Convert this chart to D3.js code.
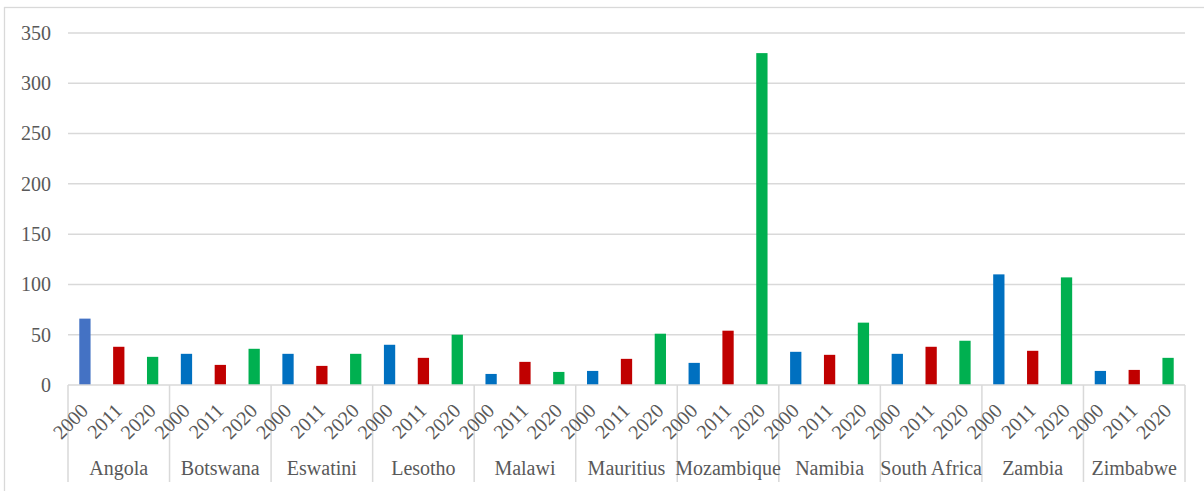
<!DOCTYPE html>
<html>
<head>
<meta charset="utf-8">
<script src="https://cdn.jsdelivr.net/npm/d3@7"></script>
<style>
  html, body { margin: 0; padding: 0; background: #fff; }
  svg { display: block; }
  text { font-family: "Liberation Serif", "Times New Roman", serif; fill: #595959; }
</style>
</head>
<body>
<svg id="chart" width="1204" height="491"></svg>
<script>
// Countries on the category axis
const countries = ["Angola", "Botswana", "Eswatini", "Lesotho", "Malawi", "Mauritius",
  "Mozambique", "Namibia", "South Africa", "Zambia", "Zimbabwe"];
// Years shown under each country
const years = ["2000", "2011", "2020"];
// Values per year, one entry per country
const values2000 = [66, 31, 31, 40, 11, 14, 22, 33, 31, 110, 14];
const values2011 = [38, 20, 19, 27, 23, 26, 54, 30, 38, 34, 15];
const values2020 = [28, 36, 31, 50, 13, 51, 330, 62, 44, 107, 27];
// Value axis ticks
const yTicks = [0, 50, 100, 150, 200, 250, 300, 350];

const seriesValues = [values2000, values2011, values2020];
const seriesColors = ["#0070C0", "#C00000", "#00B050"];
// Angola's 2000 bar carries its own fill
const pointColors = { "Angola|2000": "#4472C4" };

const rows = [];
countries.forEach((c, i) => {
  years.forEach((y, j) => {
    rows.push({ country: c, year: y, value: seriesValues[j][i],
      color: pointColors[c + "|" + y] || seriesColors[j] });
  });
});

const svg = d3.select("#chart");
const W = 1204, H = 491;
const plot = { left: 68, right: 1185, top: 33, bottom: 385 };
const gridColor = "#d9d9d9";

// Chart frame (extends past the right and bottom edges)
svg.append("rect")
  .attr("x", 4.5).attr("y", 7.5)
  .attr("width", W + 10).attr("height", H + 10)
  .attr("fill", "none").attr("stroke", gridColor).attr("stroke-width", 1.3);

const x0 = d3.scaleBand().domain(countries).range([plot.left, plot.right]).padding(0);
const x1 = d3.scaleBand().domain(years).range([0, x0.bandwidth()])
  .paddingInner(2 / 3).paddingOuter(1 / 3);
const y = d3.scaleLinear().domain([0, 350]).range([plot.bottom, plot.top]);

// Gridlines
svg.append("g")
  .selectAll("line").data(yTicks.filter(t => t > 0)).join("line")
  .attr("x1", plot.left).attr("x2", plot.right)
  .attr("y1", d => y(d)).attr("y2", d => y(d))
  .attr("stroke", gridColor).attr("stroke-width", 1.5);

// Value axis labels
const yAxis = d3.axisLeft(y).tickValues(yTicks).tickSize(0).tickPadding(17);
const yg = svg.append("g").attr("transform", `translate(${plot.left},0)`).call(yAxis);
yg.select(".domain").remove();
yg.selectAll("text")
  .style("font-family", "'Liberation Serif', 'Times New Roman', serif")
  .style("font-size", "20px").attr("fill", "#595959");

// Bars
svg.append("g")
  .selectAll("rect").data(rows).join("rect")
  .attr("x", d => x0(d.country) + x1(d.year))
  .attr("width", x1.bandwidth())
  .attr("y", d => y(d.value))
  .attr("height", d => y(0) - y(d.value))
  .attr("fill", d => d.color);

// Category axis line
svg.append("line")
  .attr("x1", plot.left).attr("x2", plot.right)
  .attr("y1", plot.bottom).attr("y2", plot.bottom)
  .attr("stroke", gridColor).attr("stroke-width", 1.5);

// Group dividers below the axis
const dividerBottom = 482;
const bounds = countries.map(c => x0(c)).concat([plot.right]);
svg.append("g")
  .selectAll("line").data(bounds).join("line")
  .attr("x1", d => d).attr("x2", d => d)
  .attr("y1", plot.bottom).attr("y2", dividerBottom)
  .attr("stroke", gridColor).attr("stroke-width", 1.5);

// Rotated year labels
svg.append("g")
  .selectAll("text").data(rows).join("text")
  .attr("transform", d => {
    const cx = x0(d.country) + x1(d.year) + x1.bandwidth() / 2 + 4.5;
    return `translate(${cx},412) rotate(-45)`;
  })
  .attr("text-anchor", "end")
  .style("font-size", "20px")
  .text(d => d.year);

// Country labels
svg.append("g")
  .selectAll("text").data(countries).join("text")
  .attr("x", d => x0(d) + x0.bandwidth() / 2)
  .attr("y", 475)
  .attr("text-anchor", "middle")
  .style("font-size", "20px")
  .text(d => d);
</script>
</body>
</html>
